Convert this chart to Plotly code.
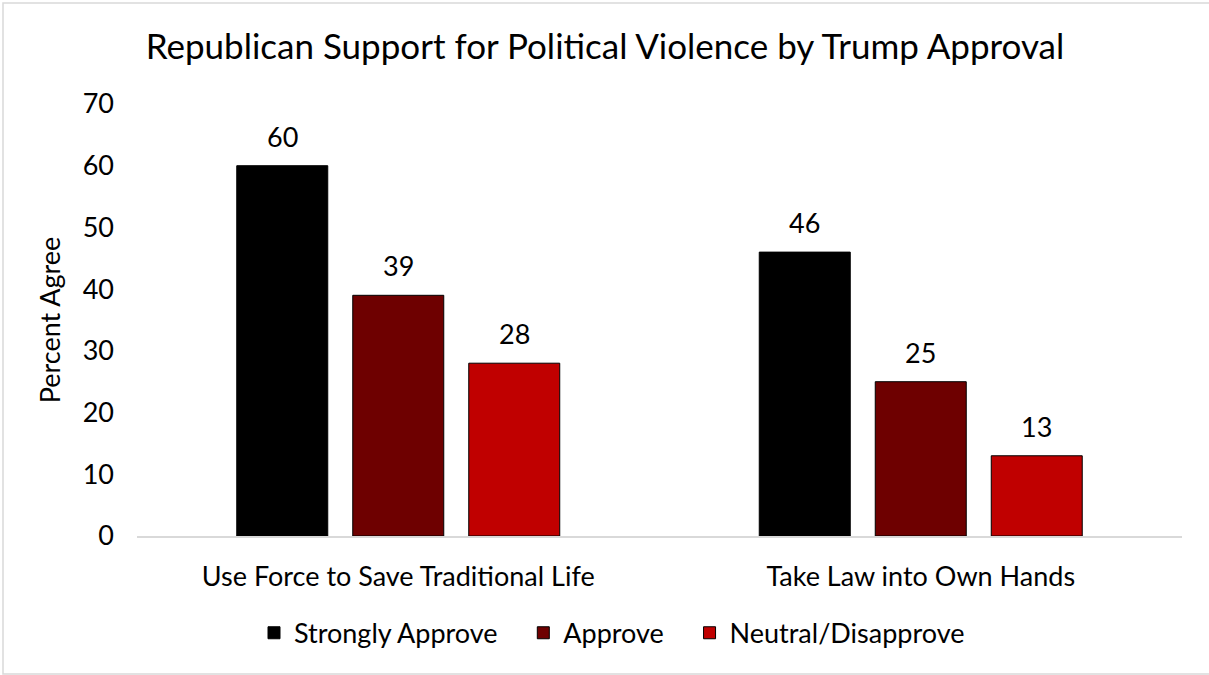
import plotly.graph_objects as go

categories = ["Use Force to Save Traditional Life", "Take Law into Own Hands"]
series_names = ["Strongly Approve", "Approve", "Neutral/Disapprove"]
strongly_approve = [60, 46]
approve = [39, 25]
neutral_disapprove = [28, 13]
colors = ["#000000", "#6E0000", "#C00000"]
y_ticks = [0, 10, 20, 30, 40, 50, 60, 70]

W, H = 1209, 675
L, R, T, B = 137, 27, 104, 139
FONT = "Lato"
FS = 27
BARGAP = 0.334
GROUPGAP = 0.2155
PAD = "\u00a0" * 3  # extra spacing between legend entries

fig = go.Figure()
all_values = [strongly_approve, approve, neutral_disapprove]
for k, (name, vals, col) in enumerate(zip(series_names, all_values, colors)):
    fig.add_trace(go.Bar(
        x=categories, y=vals, name=name + (PAD if k < len(series_names) - 1 else ""),
        marker=dict(color=col, line=dict(color="#000000", width=1)),
    ))

# data labels above bars
n = len(all_values)
slot = (1 - BARGAP) / n
for j, vals in enumerate(all_values):
    for i, v in enumerate(vals):
        fig.add_annotation(
            x=i + (j - (n - 1) / 2) * slot, y=v, xref="x", yref="y",
            text=str(v), showarrow=False, yanchor="bottom", yshift=11,
            font=dict(family=FONT, size=FS, color="#000000"),
        )

pw = W - L - R
ph = H - T - B
fig.add_shape(type="rect", xref="paper", yref="paper",
              x0=(3 - L) / pw, x1=(W + 2 - L) / pw,
              y0=(H - B - 674) / ph, y1=(H - B - 3) / ph,
              line=dict(color="#D9D9D9", width=1.5), layer="below")

fig.update_layout(
    width=W, height=H,
    margin=dict(l=L, r=R, t=T, b=B, autoexpand=False),
    paper_bgcolor="white", plot_bgcolor="white",
    barmode="group", bargap=BARGAP, bargroupgap=GROUPGAP,
    title=dict(text="Republican Support for Political Violence by Trump Approval",
               x=605 / W, xref="container", xanchor="center", y=1 - 47 / H, yanchor="middle",
               font=dict(family=FONT, size=35, color="#000000")),
    font=dict(family=FONT, size=FS, color="#000000"),
    showlegend=True,
    legend=dict(orientation="h", x=(612 - L) / pw, xanchor="center", y=-0.225, yanchor="middle",
                font=dict(family=FONT, size=FS, color="#000000"),
                traceorder="normal", itemwidth=30),
    xaxis=dict(type="category", showline=True, linecolor="#D9D9D9", linewidth=1.5,
               showgrid=False, ticks="", ticklabelstandoff=16,
               tickfont=dict(family=FONT, size=FS, color="#000000")),
    yaxis=dict(range=[0, 70], tickvals=y_ticks, showgrid=False, zeroline=False,
               showline=False, ticks="", ticklabelstandoff=22,
               tickfont=dict(family=FONT, size=FS, color="#000000"),
               title=dict(text="Percent Agree", standoff=14,
                          font=dict(family=FONT, size=FS, color="#000000"))),
)

fig.write_html("out.html")
